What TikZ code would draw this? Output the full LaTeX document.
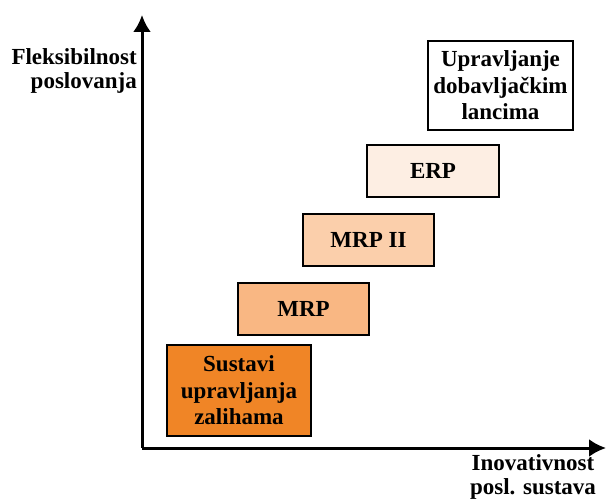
\documentclass[tikz,border=0pt]{standalone}
\usepackage{fontspec}
\setmainfont{Liberation Serif}
\usepackage{xcolor}
\usetikzlibrary{arrows.meta}

\definecolor{zalihe}{HTML}{F08526}
\definecolor{mrp}{HTML}{F9B783}
\definecolor{mrpdva}{HTML}{FBCFAB}
\definecolor{erp}{HTML}{FDEEE3}

\tikzset{
  faza/.style={draw, line width=1.5pt, align=center, inner sep=0pt,
    font=\fontsize{23}{26.5}\selectfont\bfseries},
  os/.style={line width=3pt, -{Latex[length=17pt,width=18pt]}},
  oznaka/.style={inner sep=0pt, font=\fontsize{23}{24}\selectfont\bfseries}
}

\begin{document}
\begin{tikzpicture}[x=1pt,y=-1pt]
\useasboundingbox (0,0) rectangle (606,500);

\coordinate (o) at (142,448);
\coordinate (yvrh) at (142,15);
\coordinate (xvrh) at (606,448);
\draw[os] (o) -- (yvrh);
\draw[os] (o) -- (xvrh);

\node (ylab) [oznaka, align=right, anchor=east] at (137,71) {Fleksibilnost\\poslovanja};
\node (xlab) [oznaka, align=center] at (533,476.5) {Inovativnost\\posl. sustava};

\node (zal) [faza, fill=zalihe, minimum width=144pt, minimum height=91pt] at (239,390.5) {Sustavi\\upravljanja\\zalihama};
\node (mrp) [faza, fill=mrp, minimum width=131pt, minimum height=52pt] at (303.5,309) {MRP};
\node (mrp2) [faza, fill=mrpdva, minimum width=131pt, minimum height=52pt] at (368.5,240) {MRP II};
\node (erp) [faza, fill=erp, minimum width=132pt, minimum height=52pt] at (433,171) {ERP};
\node (scm) [faza, fill=white, minimum width=145pt, minimum height=89pt] at (500.5,85.5) {Upravljanje\\dobavljačkim\\lancima};
\end{tikzpicture}
\end{document}
